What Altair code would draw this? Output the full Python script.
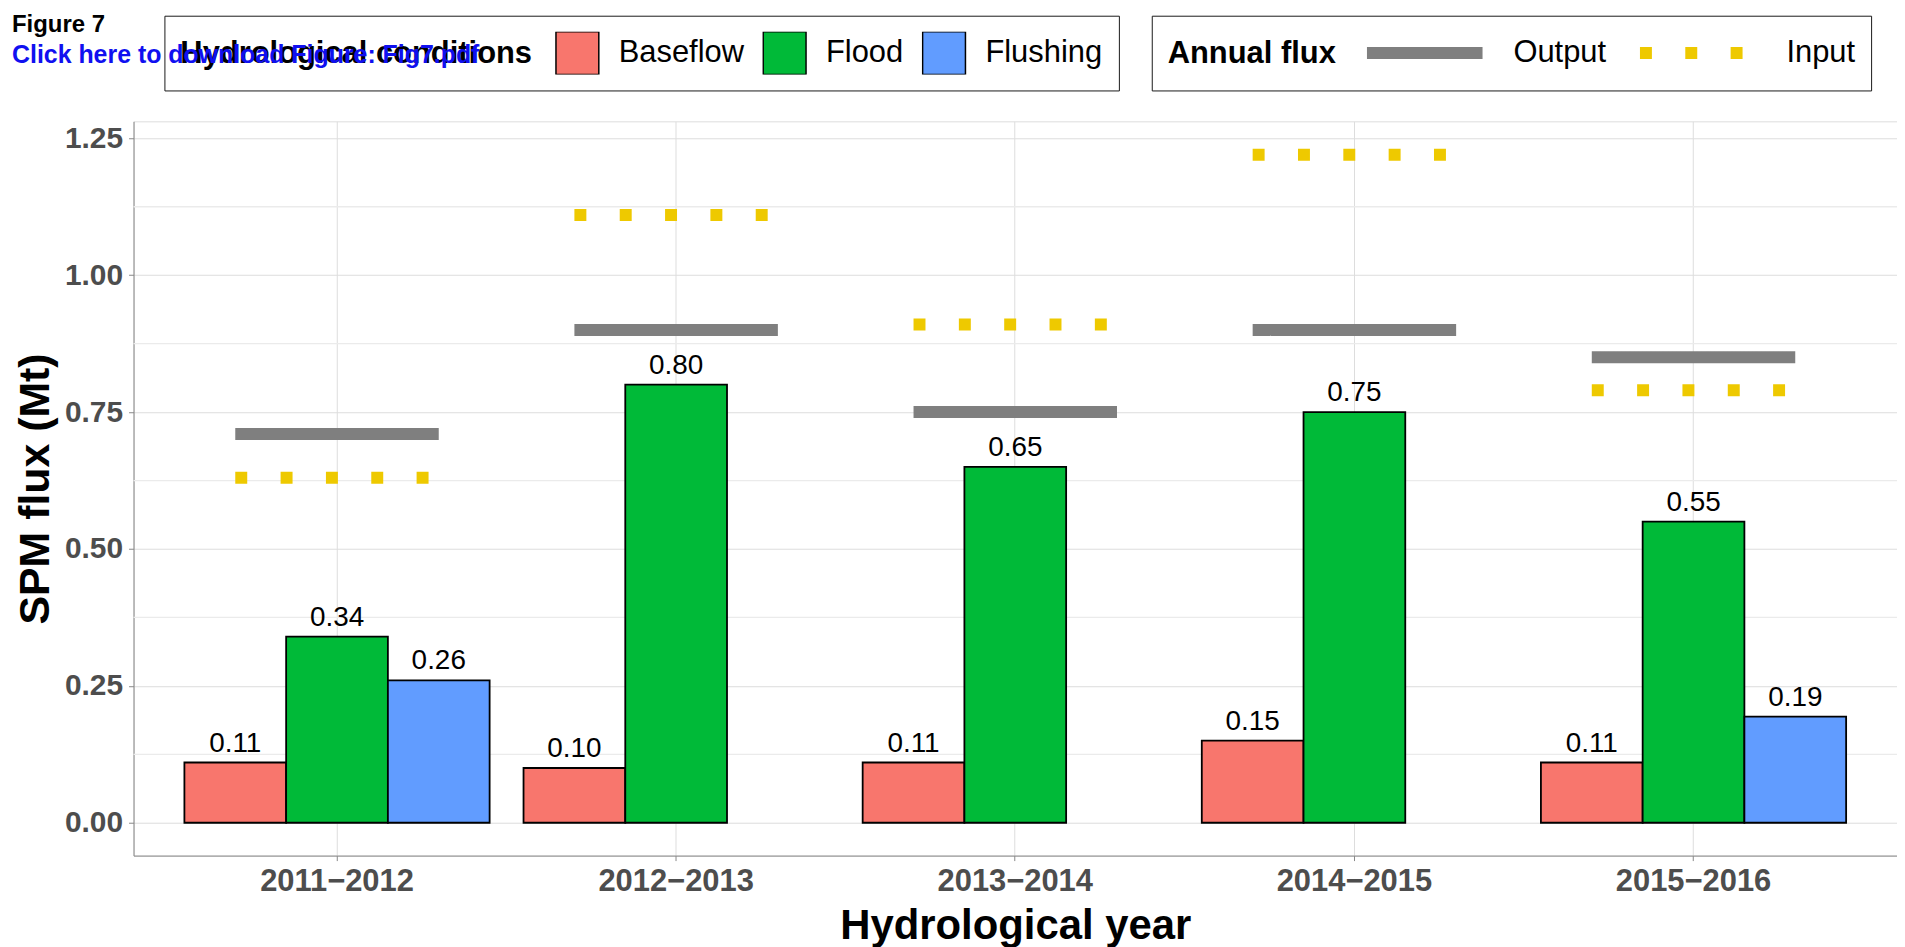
import altair as alt
import pandas as pd

# ---- data ----
years = ["2011−2012", "2012−2013", "2013−2014", "2014−2015", "2015−2016"]
conditions = ["Baseflow", "Flood", "Flushing"]
cond_colors = ["#F8766D", "#00BA38", "#619CFF"]

bar_year = ["2011−2012", "2011−2012", "2011−2012",
            "2012−2013", "2012−2013",
            "2013−2014", "2013−2014",
            "2014−2015", "2014−2015",
            "2015−2016", "2015−2016", "2015−2016"]
bar_cond = ["Baseflow", "Flood", "Flushing",
            "Baseflow", "Flood",
            "Baseflow", "Flood",
            "Baseflow", "Flood",
            "Baseflow", "Flood", "Flushing"]
bar_value = [0.11, 0.34, 0.26,
             0.10, 0.80,
             0.11, 0.65,
             0.15, 0.75,
             0.11, 0.55, 0.194]

output_flux = [0.71, 0.90, 0.75, 0.90, 0.85]
input_flux = [0.63, 1.11, 0.91, 1.22, 0.79]
flux_kinds = ["Output", "Input"]
flux_colors = ["#7F7F7F", "#EEC900"]

y_ticks = [0.0, 0.25, 0.5, 0.75, 1.0, 1.25]
y_minor = [0.125, 0.375, 0.625, 0.875, 1.125]

bars_df = pd.DataFrame({"year": bar_year, "cond": bar_cond, "value": bar_value})
flux_df = pd.DataFrame({
    "year": years + years,
    "kind": ["Output"] * len(years) + ["Input"] * len(years),
    "value": output_flux + input_flux,
})
minor_df = pd.DataFrame({"v": y_minor})

FONT = "Liberation Sans, Arial, Helvetica, sans-serif"

y_scale = alt.Scale(domain=[-0.06, 1.281], nice=False, zero=False)
x_scale = alt.Scale(domain=years, paddingInner=0.1, paddingOuter=0.15)

x_axis = alt.Axis(title="Hydrological year", bandPosition=0.5, grid=True,
                  labelFontSize=31, labelFontWeight="bold", labelColor="#4D4D4D",
                  labelPadding=6, labelAngle=0,
                  titleFontSize=42, titleFontWeight="bold", titleColor="black",
                  titlePadding=9)
y_axis = alt.Axis(title="SPM flux (Mt)", values=y_ticks, format=".2f", grid=True,
                  labelFontSize=30, labelFontWeight="bold", labelColor="#4D4D4D",
                  labelPadding=6,
                  titleFontSize=43, titleFontWeight="bold", titleColor="black",
                  titlePadding=7)

minor = alt.Chart(minor_df).mark_rule(color="#EBEBEB", strokeWidth=1.3).encode(
    y=alt.Y("v:Q", scale=y_scale, axis=y_axis)
)

bars = alt.Chart(bars_df).mark_bar(stroke="black", strokeWidth=1.8).encode(
    x=alt.X("year:N", scale=x_scale, axis=x_axis, sort=years),
    xOffset=alt.XOffset("cond:N", scale=alt.Scale(domain=conditions, paddingInner=0, paddingOuter=0)),
    y=alt.Y("value:Q", scale=y_scale, axis=y_axis),
    fill=alt.Fill("cond:N", scale=alt.Scale(domain=conditions, range=cond_colors),
                  legend=alt.Legend(
                      title="Hydrological conditions", orient="none", legendX=31, legendY=-106,
                      direction="horizontal", titleOrient="left", titleAnchor="middle",
                      titleBaseline="middle", titleLimit=800,
                      titleFontSize=31, titleFontWeight="bold", titleColor="black", titleFont=FONT,
                      labelFontSize=31, labelColor="black", labelFont=FONT, labelLimit=400,
                      symbolType="square", symbolSize=1849, symbolStrokeColor="black",
                      symbolStrokeWidth=1.5, symbolOpacity=1,
                      labelOffset=19, columnPadding=18, titlePadding=22,
                      padding=16, strokeColor="#1a1a1a", clipHeight=43)),
)

labels = alt.Chart(bars_df).mark_text(dy=-11, baseline="alphabetic", fontSize=28,
                                      font=FONT, color="black").encode(
    x=alt.X("year:N", scale=x_scale, axis=x_axis, sort=years),
    xOffset=alt.XOffset("cond:N", scale=alt.Scale(domain=conditions, paddingInner=0, paddingOuter=0)),
    y=alt.Y("value:Q", scale=y_scale, axis=y_axis),
    text=alt.Text("value:Q", format=".2f"),
)

flux_legend = alt.Legend(
    title="Annual flux", orient="none", legendX=1022, legendY=-106,
    direction="horizontal", titleOrient="left", titleAnchor="middle", titleBaseline="middle",
    titleLimit=800,
    titleFontSize=31, titleFontWeight="bold", titleColor="black", titleFont=FONT,
    labelFontSize=31, labelColor="black", labelFont=FONT, labelLimit=400,
    symbolType="stroke", symbolSize=13456, symbolStrokeWidth=12,
    labelOffset=25, columnPadding=27, titlePadding=25,
    padding=16, strokeColor="#1a1a1a", clipHeight=43)

rules = alt.Chart(flux_df).mark_rule(strokeWidth=12, strokeCap="butt").encode(
    x=alt.X("year:N", scale=x_scale, axis=x_axis, sort=years, bandPosition=1 / 6),
    x2=alt.X2("year", bandPosition=5 / 6),
    y=alt.Y("value:Q", scale=y_scale, axis=y_axis),
    color=alt.Color("kind:N", scale=alt.Scale(domain=flux_kinds, range=flux_colors),
                    legend=flux_legend),
    strokeDash=alt.StrokeDash("kind:N",
                              scale=alt.Scale(domain=flux_kinds, range=[[1, 0], [12, 33.5]]),
                              legend=flux_legend),
)

chart = alt.layer(minor, bars, rules, labels).properties(
    width=1770,
    height=737,
    padding={"left": 126, "top": 112, "right": 0, "bottom": 94},
    autosize=alt.AutoSizeParams(type="none"),
    title=alt.TitleParams(
        text="Figure 7", subtitle="Click here to download Figure: Fig7.pdf",
        anchor="start", frame="group", orient="top",
        font=FONT, fontSize=24, fontWeight="bold", color="black",
        subtitleFont=FONT, subtitleFontSize=25, subtitleFontWeight="bold",
        subtitleColor="#1010F0", subtitlePadding=6,
        offset=0, dx=-122, dy=53),
).configure_view(
    stroke="#333333", strokeWidth=1.5
).configure_axis(
    gridColor="#EBEBEB", gridWidth=2, domain=False,
    tickColor="#333333", tickWidth=1.5, tickSize=7,
    labelFont=FONT, titleFont=FONT,
).configure(background="white")

chart.save("out.html", embed_options={"renderer": "svg", "actions": False})
